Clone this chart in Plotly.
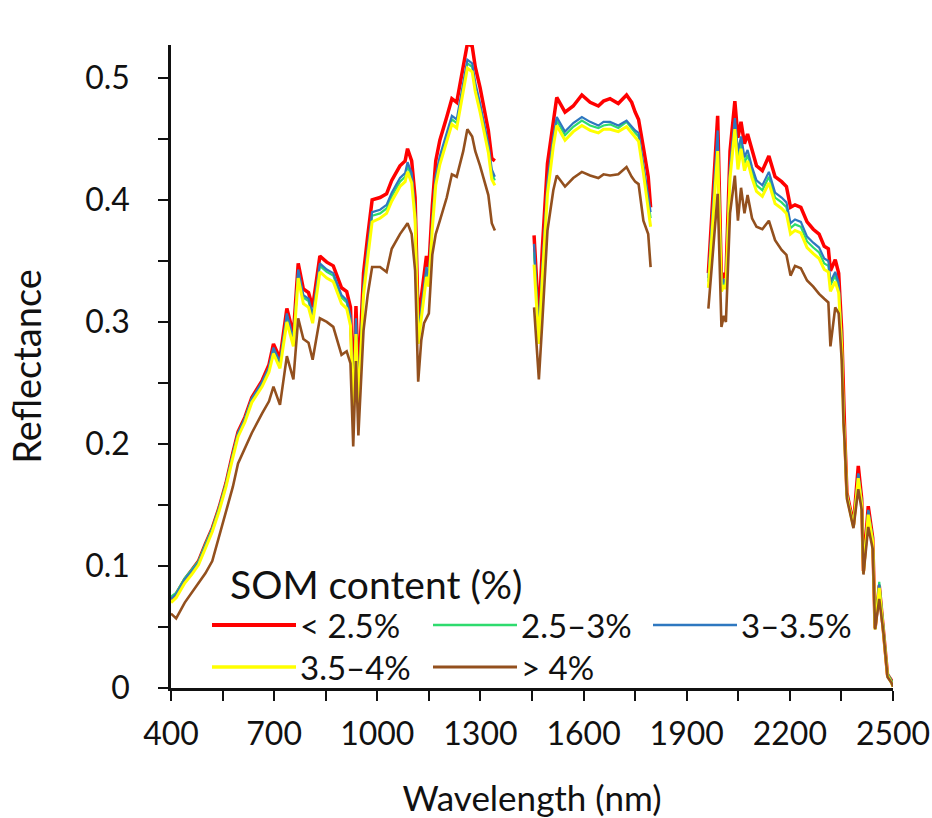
import plotly.graph_objects as go

# ---------------- data (wavelength in nm, reflectance) ----------------
WL_A = [400, 415, 440, 460, 480, 500, 520, 540, 560, 580,
        595, 615, 635, 665, 685, 698, 717, 737, 756, 770,
        785, 800, 812, 833, 853, 872, 896, 911, 922, 930,
        938, 945, 960, 972, 985, 1008, 1027, 1042, 1066, 1081,
        1088, 1100, 1110, 1119, 1128, 1136, 1143, 1150, 1160, 1170,
        1182, 1202, 1217, 1231, 1250, 1262, 1276, 1285, 1299, 1313,
        1323, 1333, 1342]
WL_B = [1456, 1470, 1480, 1495, 1512, 1522, 1546, 1570, 1595, 1619,
        1643, 1658, 1677, 1701, 1725, 1740, 1750, 1760, 1774, 1788, 1795]
WL_C = [1963, 1990, 2001, 2008, 2014, 2026, 2040, 2049, 2058, 2068,
        2077, 2090, 2103, 2120, 2139, 2157, 2176, 2190, 2202, 2215,
        2232, 2250, 2268, 2285, 2300, 2312, 2318, 2332, 2342, 2351,
        2356, 2360, 2366, 2385, 2399, 2409, 2414, 2428, 2441, 2448,
        2460, 2472, 2484, 2496, 2500]

# < 2.5 %
LT25_A = [0.073, 0.077, 0.089, 0.096, 0.104, 0.118, 0.131, 0.148, 0.168, 0.193,
          0.210, 0.222, 0.238, 0.252, 0.265, 0.282, 0.270, 0.311, 0.290, 0.348,
          0.327, 0.324, 0.312, 0.354, 0.349, 0.346, 0.328, 0.325, 0.312, 0.240,
          0.313, 0.250, 0.340, 0.370, 0.400, 0.402, 0.405, 0.416, 0.428, 0.432,
          0.442, 0.432, 0.402, 0.300, 0.320, 0.335, 0.354, 0.345, 0.395, 0.432,
          0.449, 0.468, 0.483, 0.480, 0.512, 0.528, 0.526, 0.509, 0.492, 0.473,
          0.457, 0.434, 0.432]
LT25_B = [0.371, 0.300, 0.360, 0.430, 0.464, 0.484, 0.472, 0.477, 0.486, 0.480,
          0.477, 0.481, 0.483, 0.479, 0.486, 0.480, 0.472, 0.466, 0.443, 0.419, 0.394]
LT25_C = [0.340, 0.469, 0.334, 0.340, 0.336, 0.440, 0.481, 0.451, 0.464, 0.446,
          0.454, 0.440, 0.428, 0.424, 0.436, 0.419, 0.415, 0.411, 0.394, 0.396,
          0.394, 0.382, 0.376, 0.372, 0.362, 0.360, 0.342, 0.351, 0.340, 0.292,
          0.230, 0.205, 0.160, 0.134, 0.182, 0.155, 0.096, 0.149, 0.123, 0.049,
          0.084, 0.049, 0.011, 0.006, 0.002]

# 2.5–3 %
R25_3_A = [0.075, 0.078, 0.090, 0.097, 0.104, 0.118, 0.131, 0.148, 0.168, 0.192,
           0.209, 0.221, 0.237, 0.250, 0.262, 0.278, 0.266, 0.305, 0.284, 0.341,
           0.320, 0.317, 0.304, 0.346, 0.341, 0.338, 0.320, 0.316, 0.302, 0.228,
           0.298, 0.236, 0.327, 0.357, 0.387, 0.389, 0.393, 0.403, 0.415, 0.419,
           0.428, 0.419, 0.389, 0.287, 0.308, 0.324, 0.342, 0.334, 0.381, 0.417,
           0.433, 0.452, 0.466, 0.463, 0.495, 0.512, 0.509, 0.493, 0.476, 0.458,
           0.443, 0.422, 0.416]
R25_3_B = [0.357, 0.287, 0.340, 0.410, 0.448, 0.465, 0.453, 0.460, 0.465, 0.461,
           0.459, 0.461, 0.462, 0.459, 0.464, 0.458, 0.455, 0.452, 0.427, 0.400, 0.385]
R25_3_C = [0.333, 0.450, 0.328, 0.333, 0.330, 0.424, 0.463, 0.434, 0.447, 0.430,
           0.437, 0.423, 0.412, 0.408, 0.419, 0.402, 0.398, 0.394, 0.377, 0.380,
           0.378, 0.366, 0.361, 0.357, 0.348, 0.346, 0.330, 0.338, 0.329, 0.282,
           0.224, 0.202, 0.158, 0.133, 0.175, 0.152, 0.095, 0.145, 0.122, 0.049,
           0.087, 0.050, 0.012, 0.006, 0.003]

# 3–3.5 %
R3_35_A = [0.073, 0.077, 0.089, 0.096, 0.103, 0.117, 0.130, 0.147, 0.167, 0.192,
           0.209, 0.221, 0.237, 0.251, 0.263, 0.279, 0.267, 0.307, 0.286, 0.343,
           0.322, 0.319, 0.306, 0.348, 0.343, 0.340, 0.322, 0.318, 0.305, 0.232,
           0.303, 0.240, 0.330, 0.360, 0.390, 0.392, 0.396, 0.406, 0.418, 0.422,
           0.431, 0.422, 0.392, 0.290, 0.311, 0.327, 0.345, 0.337, 0.384, 0.420,
           0.436, 0.455, 0.469, 0.466, 0.498, 0.515, 0.512, 0.496, 0.479, 0.461,
           0.446, 0.425, 0.419]
R3_35_B = [0.364, 0.290, 0.345, 0.415, 0.452, 0.468, 0.456, 0.463, 0.468, 0.464,
           0.461, 0.464, 0.464, 0.461, 0.465, 0.460, 0.457, 0.455, 0.430, 0.405, 0.390]
R3_35_C = [0.336, 0.457, 0.330, 0.335, 0.332, 0.428, 0.467, 0.440, 0.452, 0.435,
           0.441, 0.427, 0.416, 0.412, 0.423, 0.406, 0.402, 0.398, 0.381, 0.384,
           0.382, 0.370, 0.365, 0.361, 0.352, 0.350, 0.333, 0.341, 0.332, 0.285,
           0.226, 0.203, 0.159, 0.133, 0.176, 0.153, 0.095, 0.146, 0.122, 0.049,
           0.085, 0.049, 0.011, 0.005, 0.002]

# 3.5–4 %
R35_4_A = [0.070, 0.074, 0.086, 0.093, 0.101, 0.115, 0.128, 0.145, 0.165, 0.189,
           0.206, 0.218, 0.234, 0.247, 0.259, 0.274, 0.262, 0.300, 0.280, 0.336,
           0.315, 0.312, 0.299, 0.341, 0.336, 0.333, 0.315, 0.311, 0.297, 0.222,
           0.290, 0.230, 0.322, 0.352, 0.382, 0.385, 0.389, 0.399, 0.411, 0.415,
           0.423, 0.414, 0.384, 0.282, 0.303, 0.319, 0.337, 0.329, 0.376, 0.412,
           0.429, 0.448, 0.462, 0.459, 0.491, 0.508, 0.505, 0.489, 0.472, 0.454,
           0.439, 0.417, 0.412]
R35_4_B = [0.347, 0.282, 0.335, 0.405, 0.444, 0.461, 0.449, 0.456, 0.461, 0.457,
           0.455, 0.458, 0.458, 0.456, 0.460, 0.455, 0.451, 0.448, 0.422, 0.394, 0.378]
R35_4_C = [0.328, 0.440, 0.325, 0.330, 0.327, 0.418, 0.458, 0.425, 0.442, 0.424,
           0.432, 0.418, 0.407, 0.403, 0.414, 0.397, 0.393, 0.389, 0.372, 0.375,
           0.373, 0.361, 0.356, 0.352, 0.343, 0.341, 0.325, 0.333, 0.324, 0.278,
           0.221, 0.200, 0.157, 0.132, 0.172, 0.150, 0.094, 0.142, 0.120, 0.048,
           0.082, 0.048, 0.010, 0.004, 0.001]

# > 4 %
GT4_A = [0.061, 0.057, 0.070, 0.078, 0.085, 0.094, 0.104, 0.124, 0.143, 0.165,
         0.184, 0.197, 0.209, 0.225, 0.235, 0.247, 0.232, 0.272, 0.253, 0.303,
         0.286, 0.283, 0.269, 0.303, 0.300, 0.296, 0.273, 0.276, 0.266, 0.198,
         0.268, 0.207, 0.293, 0.322, 0.345, 0.345, 0.341, 0.360, 0.372, 0.378,
         0.381, 0.372, 0.342, 0.251, 0.285, 0.299, 0.303, 0.307, 0.355, 0.372,
         0.383, 0.402, 0.421, 0.419, 0.440, 0.458, 0.452, 0.440, 0.428, 0.413,
         0.404, 0.381, 0.375]
GT4_B = [0.312, 0.253, 0.300, 0.375, 0.408, 0.420, 0.411, 0.418, 0.423, 0.420,
         0.418, 0.421, 0.420, 0.421, 0.427, 0.419, 0.415, 0.413, 0.383, 0.372, 0.345]
GT4_C = [0.311, 0.405, 0.296, 0.305, 0.300, 0.389, 0.420, 0.383, 0.410, 0.389,
         0.404, 0.385, 0.378, 0.376, 0.383, 0.367, 0.359, 0.355, 0.338, 0.346,
         0.344, 0.334, 0.329, 0.323, 0.319, 0.316, 0.280, 0.312, 0.307, 0.268,
         0.218, 0.198, 0.155, 0.131, 0.163, 0.146, 0.093, 0.132, 0.114, 0.048,
         0.073, 0.046, 0.009, 0.004, 0.001]

NAMES = ["< 2.5%", "2.5–3%", "3–3.5%", "3.5–4%", "> 4%"]
LEGEND_TITLE = "SOM content (%)"
X_TICKS = [400, 700, 1000, 1300, 1600, 1900, 2200, 2500]
Y_TICKS = [0, 0.1, 0.2, 0.3, 0.4, 0.5]

# ---------------- styling ----------------
COLORS = ["#FF0000", "#2EDB6E", "#2E78C0", "#FFFF00", "#93501E"]
WIDTHS = [3.5, 2.2, 2.2, 3.0, 2.6]
FONT = "Lato"
INK = "#111111"


def joined(a, b, c):
    return a + [None] + b + [None] + c


wl = joined(WL_A, WL_B, WL_C)
series = [
    joined(LT25_A, LT25_B, LT25_C),
    joined(R25_3_A, R25_3_B, R25_3_C),
    joined(R3_35_A, R3_35_B, R3_35_C),
    joined(R35_4_A, R35_4_B, R35_4_C),
    joined(GT4_A, GT4_B, GT4_C),
]

fig = go.Figure()
for name, ys, col, w in zip(NAMES, series, COLORS, WIDTHS):
    fig.add_trace(go.Scatter(x=wl, y=ys, mode="lines", name=name,
                             line=dict(color=col, width=w),
                             connectgaps=False, showlegend=False))

# plot area of the original: left 171, right 893, top 45, bottom 688
W, H = 932, 818
L, T = 171, 45
R = W - 893
B = H - 688
pw, ph = W - L - R, H - T - B


def px(xp):
    return (xp - L) / pw


def py(yp):
    return (H - B - yp) / ph


legend_pos = [(212, 625), (433, 625), (653, 625), (212, 667), (433, 667)]
shapes = []
annotations = []
for (x0, y0), name, col, w in zip(legend_pos, NAMES, COLORS, WIDTHS):
    shapes.append(dict(type="line", xref="paper", yref="paper",
                       x0=px(x0), x1=px(x0 + 84), y0=py(y0), y1=py(y0),
                       line=dict(color=col, width=w + 0.5)))
    annotations.append(dict(xref="paper", yref="paper", x=px(x0 + 86), y=py(y0),
                            xanchor="left", yanchor="middle", showarrow=False,
                            text=name, font=dict(family=FONT, size=33, color=INK)))
annotations.append(dict(xref="paper", yref="paper", x=px(228), y=py(584),
                        xanchor="left", yanchor="middle", showarrow=False,
                        text=LEGEND_TITLE, font=dict(family=FONT, size=39, color=INK)))

axis_common = dict(
    showline=True, linecolor=INK, linewidth=2.5,
    ticks="outside", ticklen=10, tickwidth=2, tickcolor=INK,
    showgrid=False, zeroline=False,
    tickfont=dict(family=FONT, size=32, color=INK),
)

fig.update_layout(
    width=W, height=H,
    margin=dict(l=L, r=R, t=T, b=B, autoexpand=False),
    paper_bgcolor="white", plot_bgcolor="white",
    font=dict(family=FONT, color=INK),
    shapes=shapes, annotations=annotations,
    xaxis=dict(range=[400, 2500], tickmode="array", tickvals=X_TICKS,
               ticktext=[str(v) for v in X_TICKS],
               minor=dict(ticks="outside", tick0=400, dtick=150, ticklen=10,
                          tickwidth=2, tickcolor=INK, showgrid=False),
               ticklabelstandoff=6,
               title=dict(text="Wavelength (nm)", standoff=36,
                          font=dict(family=FONT, size=35, color=INK)),
               **axis_common),
    yaxis=dict(range=[0, 0.527], tickmode="array", tickvals=Y_TICKS,
               ticktext=["0", "0.1", "0.2", "0.3", "0.4", "0.5"],
               minor=dict(ticks="outside", tick0=0, dtick=0.05, ticklen=10,
                          tickwidth=2, tickcolor=INK, showgrid=False),
               ticklabelstandoff=22,
               title=dict(text="Reflectance", standoff=32,
                          font=dict(family=FONT, size=38, color=INK)),
               **axis_common),
)

fig.write_html("out.html",
               config={"displayModeBar": False},
               post_script="document.body.style.margin='0';"
                           "document.body.style.overflow='hidden';")
